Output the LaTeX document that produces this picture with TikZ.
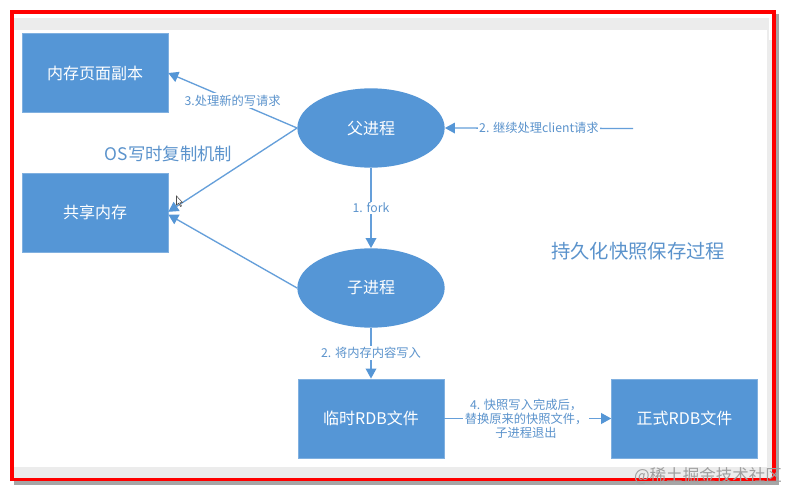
\documentclass[tikz,border=0pt]{standalone}
\usepackage{fontspec}
\setmainfont{Noto Sans CJK SC}
\usetikzlibrary{arrows.meta,shapes.geometric}

\definecolor{boxblue}{HTML}{5596D6}
\definecolor{flowblue}{HTML}{659FDA}
\definecolor{textblue}{HTML}{5B93CC}
\definecolor{bandgray}{HTML}{ECECEC}

\tikzset{
    membox/.style={draw=boxblue!75!white, fill=boxblue, text=white, minimum width=109.5pt, minimum height=59.5pt, inner sep=0pt, font=\fontsize{12}{14}\selectfont},
    procnode/.style={ellipse, fill=boxblue, text=white, minimum width=110.5pt, minimum height=59.5pt, inner sep=0pt, font=\fontsize{12}{14}\selectfont},
    flow/.style={draw=flowblue, line width=1pt, -{Triangle[length=7.5pt,width=8pt,color=boxblue]}},
    steplabel/.style={fill=white, text=textblue, inner xsep=1pt, inner ysep=1pt, align=center, font=\fontsize{9.2}{10.6}\selectfont},
    heading/.style={text=textblue, inner sep=0pt}
}

\begin{document}
\begin{tikzpicture}[x=0.75pt,y=-0.75pt]
    \useasboundingbox (0,0) rectangle (786,492);
    \fill[white] (0,0) rectangle (786,492);

    % frame of the screenshot
    \fill[gray!70] (14,14) rectangle (778.5,485);
    \fill[white] (12,12) rectangle (774,480);
    \fill[bandgray] (14,18) rectangle (772,30);
    \fill[bandgray] (14,467) rectangle (772,478);
    \fill[bandgray] (767,18) rectangle (772,478);
    \fill[white] (769,15) rectangle (771.5,40);
    \draw[red, line width=2.8pt] (12,12) rectangle (774,479.5);

    \node[membox] (pagecopy) at (95,73) {内存页面副本};
    \node[membox] (sharedmem) at (95,212.5) {共享内存};
    \node[membox] (tmprdb) at (371,418.5) {临时RDB文件};
    \node[membox] (finalrdb) at (684.5,418.5) {正式RDB文件};

    \node[procnode] (parent) at (371,128) {父进程};
    \node[procnode] (child) at (371,288) {子进程};

    \coordinate (clientin) at (633,128.5);

    \draw[flow] (parent.west) -- (pagecopy.east) node[steplabel, pos=0.5] {3.处理新的写请求};
    \draw[flow] (parent.west) -- ([yshift=0.5pt]sharedmem.east);
    \draw[flow] (child.west) -- ([yshift=-1.5pt]sharedmem.east);
    \draw[flow] (parent) -- (child) node[steplabel, pos=0.5] {1. fork};
    \draw[flow] (clientin) -- (parent.east) node[steplabel, pos=0.5] {2. 继续处理client请求};
    \draw[flow] (child) -- (tmprdb) node[steplabel, pos=0.5] {2. 将内存内容写入};
    \draw[flow] (tmprdb) -- (finalrdb) node[steplabel, pos=0.49] {4. 快照写入完成后，\\替换原来的快照文件，\\子进程退出};

    \node[heading, font=\fontsize{13}{15}\selectfont] (oscopy) at (168.5,154) {OS写时复制机制};
    \node[heading, font=\fontsize{14.5}{17}\selectfont] (savetitle) at (638,251) {持久化快照保存过程};

    % mouse pointer
    \fill[white, draw=black!70, line width=0.4pt] (176.5,196) -- (176.5,205) -- (178.7,203.2) -- (180.5,206.5) -- (181.5,206) -- (180,202.7) -- (182.5,202.5) -- cycle;

    % watermark
    \node[text=gray!75, font=\fontsize{12.4}{14}\selectfont, inner sep=0pt] (mark) at (708,476) {@稀土掘金技术社区};
\end{tikzpicture}
\end{document}
